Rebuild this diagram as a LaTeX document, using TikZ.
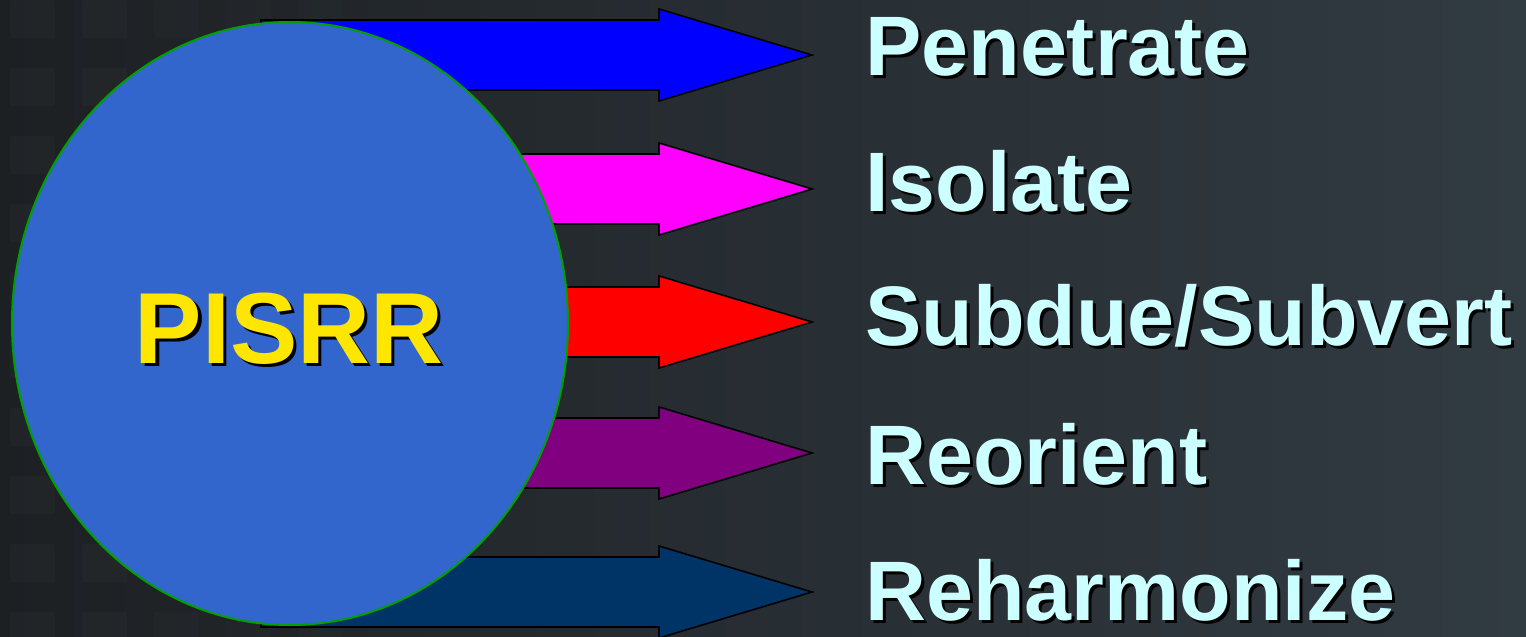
\documentclass[tikz,border=0pt]{standalone}
\usepackage{fontspec}
\setmainfont{Liberation Sans}
\usetikzlibrary{shapes.geometric}
\definecolor{bgl}{HTML}{1D2023}
\definecolor{bgr}{HTML}{313B42}
\definecolor{circfill}{HTML}{3366CC}
\definecolor{circedge}{HTML}{00A000}
\definecolor{labelcol}{HTML}{CCFFFF}
\definecolor{titlecol}{HTML}{FFE600}
\definecolor{arrblue}{HTML}{0000FF}
\definecolor{arrmag}{HTML}{FF00FF}
\definecolor{arrred}{HTML}{FF0000}
\definecolor{arrpur}{HTML}{800080}
\definecolor{arrnavy}{HTML}{003366}
\begin{document}
\begin{tikzpicture}[x=1pt,y=-1pt,
  bigarrow/.style={draw=black,line width=1.6pt,line join=miter},
  lbl/.style={anchor=base west,inner sep=0pt,text=labelcol,font=\bfseries\fontsize{84.4}{90}\selectfont},
  lblshadow/.style={anchor=base west,inner sep=0pt,text=black,font=\bfseries\fontsize{84.4}{90}\selectfont},
  ttl/.style={anchor=base,inner sep=0pt,text=titlecol,font=\bfseries\fontsize{101}{110}\selectfont},
  ttlshadow/.style={anchor=base,inner sep=0pt,text=black,font=\bfseries\fontsize{101}{110}\selectfont},
  bgsq/.style={fill=white,draw=none,rounded corners=2pt}]
\useasboundingbox (0,0) rectangle (1526,637);
\shade[left color=bgl,right color=bgr] (0,0) rectangle (1526,637);
% faint squares in background
\foreach \xx/\op in {10/0.02,82/0.018,154/0.015,226/0.012,298/0.01} {
  \foreach \yy in {0,68,136,204,272,340,408,476,544,612} {
    \fill[bgsq,fill opacity=\op] (\xx,\yy) rectangle ++(45,38);
  }
}
% arrows
\foreach \c/\col/\nm in {55/arrblue/a1,189/arrmag/a2,322/arrred/a3,453/arrpur/a4,592/arrnavy/a5} {
  \coordinate (\nm-tail) at (261,\c);
  \coordinate (\nm-tip) at (812,\c);
  \fill[\col] (261,\c-35) -- (659,\c-35) -- (659,\c-46) -- (812,\c) -- (659,\c+46) -- (659,\c+35) -- (261,\c+35) -- cycle;
  \draw[bigarrow] (261,\c-35) -- (659,\c-35) -- (659,\c-46) -- (812,\c) -- (659,\c+46) -- (659,\c+35) -- (261,\c+35) -- cycle;
}
% circle
\node[ellipse,draw=circedge,fill=circfill,line width=2pt,minimum width=556pt,minimum height=603pt,inner sep=0pt] (hub) at (290,323.5) {};
\node[ttlshadow] (titleshadow) at (292.5,366) {PISRR};
\node[ttl] (title) at (289,363) {PISRR};
% labels
\foreach \b/\t/\nm in {75/Penetrate/l1,211/Isolate/l2,345/Subdue\slash Subvert/l3,484/Reorient/l4,620/Reharmonize/l5} {
  \node[lblshadow] (\nm s) at (868,\b+3) {\t};
  \node[lbl] (\nm) at (865,\b) {\t};
}
\end{tikzpicture}
\end{document}
